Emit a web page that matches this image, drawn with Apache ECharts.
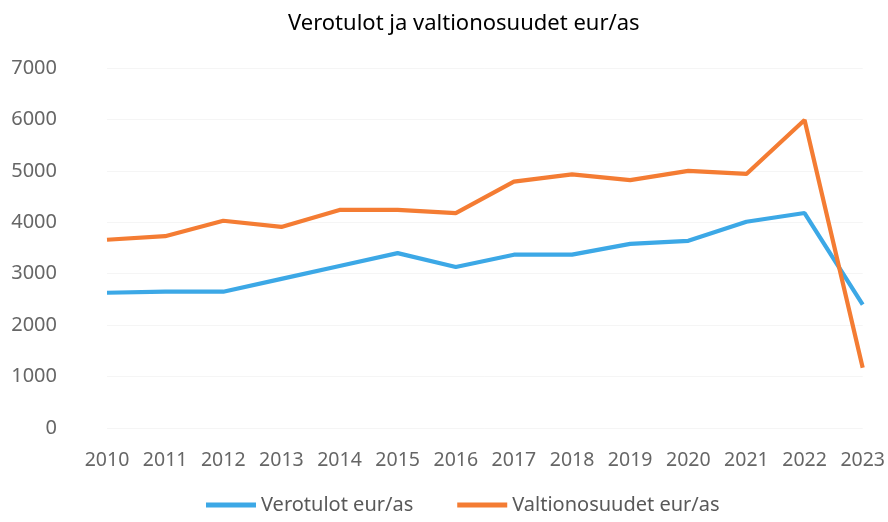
<!DOCTYPE html>
<html>
<head>
<meta charset="utf-8">
<script src="https://cdn.jsdelivr.net/npm/echarts@6/dist/echarts.min.js"></script>
<style>
  html, body { margin: 0; padding: 0; background: #fff; }
  #chart { width: 888px; height: 522px; }
</style>
</head>
<body>
<div id="chart"></div>
<script>
const years = ['2010', '2011', '2012', '2013', '2014', '2015', '2016', '2017', '2018', '2019', '2020', '2021', '2022', '2023']
const verotulot = [2630, 2650, 2650, 2900, 3150, 3400, 3130, 3370, 3370, 3580, 3640, 4010, 4180, 2400]
const valtionosuudet = [3660, 3730, 4030, 3910, 4240, 4240, 4180, 4790, 4930, 4820, 5000, 4940, 5990, 1170]
const yTicks = [0, 7000, 1000] // min, max, interval

const chart = echarts.init(document.getElementById('chart'))
const font = 'Noto Sans'
const option = {
  animation: false,
  title: {
    text: 'Verotulot ja valtionosuudet eur/as',
    left: 283,
    top: 8,
    textStyle: { fontFamily: font, fontSize: 22, fontWeight: 'normal', color: '#000' },
  },
  legend: {
    bottom: 2,
    left: 201,
    icon: 'rect',
    itemWidth: 50,
    itemHeight: 5,
    itemGap: 44,
    textStyle: { fontFamily: font, fontSize: 20, color: '#595959' },
    data: ['Verotulot eur/as', 'Valtionosuudet eur/as'],
  },
  grid: { left: 107, right: 25, top: 68, bottom: 94 },
  xAxis: {
    type: 'category',
    data: years,
    boundaryGap: false,
    axisLine: { show: false },
    axisTick: { show: false },
    axisLabel: { fontFamily: font, fontSize: 19.5, color: '#666', margin: 22, interval: 0, hideOverlap: false },
  },
  yAxis: {
    type: 'value',
    min: yTicks[0],
    max: yTicks[1],
    interval: yTicks[2],
    axisLine: { show: false },
    axisTick: { show: false },
    splitLine: { lineStyle: { color: '#f5f5f5' } },
    axisLabel: {
      fontFamily: font, fontSize: 20, color: '#666', margin: 50,
      formatter: function (v) { return String(v) },
    },
  },
  series: [
    {
      name: 'Verotulot eur/as',
      type: 'line',
      data: verotulot,
      symbol: 'none',
      lineStyle: { width: 4.2, color: '#3ca8e6' },
      itemStyle: { color: '#3ca8e6' },
    },
    {
      name: 'Valtionosuudet eur/as',
      type: 'line',
      data: valtionosuudet,
      symbol: 'none',
      lineStyle: { width: 4.2, color: '#f47c33' },
      itemStyle: { color: '#f47c33' },
    },
  ],
}
chart.setOption(option)
</script>
</body>
</html>
